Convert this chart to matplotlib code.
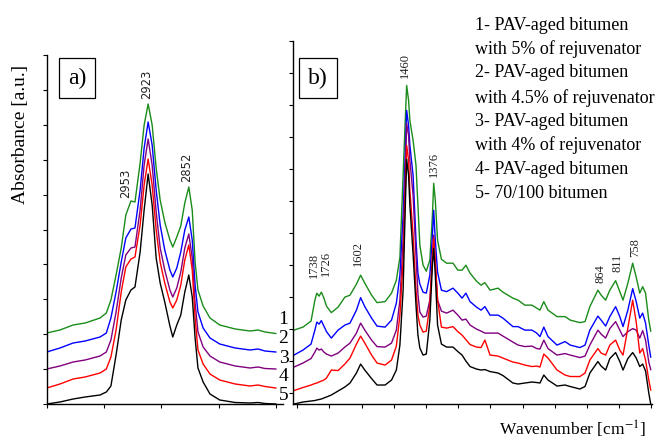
import matplotlib
matplotlib.use("Agg")
import matplotlib.pyplot as plt
import numpy as np

plt.rcParams['mathtext.fontset'] = 'stix'

# ---------------- Data: panel a) C-H stretching region ----------------
wn_a = [3100, 3077, 3054, 3033, 3007, 2996, 2988, 2979, 2970, 2962, 2953, 2946,
        2937, 2930, 2923, 2916, 2909, 2902, 2894, 2885, 2880, 2873, 2866, 2859,
        2852, 2846, 2841, 2836, 2827, 2815, 2798, 2771, 2745, 2731, 2719, 2700]

a1 = [71, 74, 79, 81, 86, 91, 104, 129, 156, 189, 203, 202, 241, 279, 300, 279, 236,
      204, 182, 164, 157, 167, 178, 201, 217, 194, 142, 114, 98, 86, 79, 75, 73, 74, 72, 70.5]
a2 = [52, 56, 61, 63, 67, 71, 86, 112, 142, 166, 175, 176, 214, 256, 282, 259, 214,
      179, 154, 134, 127, 136, 152, 174, 187, 164, 119, 92, 76, 66, 60, 56, 54, 55, 53, 52]
a3 = [35, 38, 42, 44, 48, 52, 64, 92, 126, 149, 156, 157, 194, 239, 265, 239, 192,
      156, 134, 114, 107, 116, 132, 156, 170, 146, 101, 72, 57, 48, 42, 38, 36, 37, 35.5, 35]
a4 = [16, 20, 25, 27, 31, 35, 47, 74, 112, 137, 145, 147, 179, 219, 245, 219, 174,
      142, 121, 102, 96, 104, 119, 144, 159, 134, 86, 54, 40, 30, 24, 20, 18, 19, 17.5, 16]
a5 = [0, 2, 5, 7, 9, 12, 18, 49, 84, 104, 114, 117, 152, 194, 230, 199, 146,
      121, 102, 78, 67, 79, 89, 112, 129, 107, 66, 36, 22, 10, 4, 1.5, 1, 1.5, 0.5, 0]

# ---------------- Data: panel b) fingerprint region ----------------
wn_b = [1810, 1782, 1757, 1745, 1739, 1732, 1725, 1717, 1709, 1694,
        1673, 1652, 1636, 1616, 1603, 1590, 1569, 1552, 1527, 1507,
        1492, 1481, 1471, 1465, 1460, 1454, 1450, 1440, 1431, 1425,
        1419, 1409, 1399, 1388, 1380, 1376, 1371, 1364, 1352, 1336,
        1316, 1301, 1288, 1276, 1263, 1243, 1229, 1217, 1201, 1176,
        1161, 1130, 1114, 1093, 1071, 1056, 1046, 1034, 1021, 993,
        968, 952, 922, 906, 891, 866, 856, 842, 829, 811,
        798, 788, 773, 758, 747, 736, 727, 718, 708, 702]

b1 = [74, 77, 83, 104, 111, 108, 112, 106, 98, 91.5,
      97, 107, 109, 120, 129, 121, 109, 101.5, 102.5, 111,
      124, 147, 229, 279, 319, 304, 284, 264, 239, 199,
      159, 139, 133, 144, 189, 221, 204, 164, 145, 141,
      141, 134, 134, 139, 131, 123, 119, 121.5, 114, 116,
      112, 106, 104, 99, 99, 96, 94, 102.5, 94, 87.5,
      87.5, 84, 81.5, 82.5, 97.5, 114, 109, 104, 114, 123.5,
      112.5, 104, 121, 141, 127, 111, 117.5, 111, 84, 73]
b2 = [49, 54, 60, 74, 82, 80, 83.5, 78, 72.5, 66,
      74, 79, 81, 94, 106.5, 97.5, 86, 78, 77, 84,
      101, 129, 189, 244, 294, 279, 259, 229, 164, 131,
      120, 112, 111, 129, 169, 194, 164, 132, 114, 112.5,
      116, 111, 106, 111, 102.5, 97, 94, 97.5, 89, 89,
      86, 77.5, 77.5, 74, 74, 71, 67.5, 77, 67.5, 59,
      62.5, 59, 56.5, 59, 74, 88, 84, 78, 87.5, 97.5,
      87.5, 77.5, 94, 115.5, 102.5, 86, 91, 81, 59, 47]
b3 = [37, 41, 45.5, 52, 56, 54, 55, 52, 50, 48,
      51, 57, 61, 71, 81, 74, 64, 57.5, 57, 61,
      74, 104, 164, 224, 281, 269, 244, 209, 149, 110,
      92, 87, 88, 104, 144, 169, 139, 104, 93, 91,
      94, 89, 84, 85, 79, 75, 73, 71, 71, 71,
      68, 62, 59, 57.5, 58, 55.5, 55, 64, 55.5, 49,
      50.5, 49, 46.5, 48, 59, 74, 70, 66, 75.5, 82.5,
      74, 67.5, 72.5, 75.5, 74, 66, 73.5, 64, 42, 34.5]
b4 = [13.5, 16.5, 19, 20.5, 21, 22, 23, 24, 26, 34,
      33.5, 40, 46, 60, 68, 61, 49, 41, 39, 44,
      58, 89, 144, 204, 259, 244, 214, 169, 114, 89,
      79, 72, 73, 99, 149, 166, 144, 104, 77, 76,
      77.5, 72.5, 69, 64.5, 59.5, 57, 56.5, 64, 49, 48,
      46, 42, 41, 39, 37.5, 38, 37, 50, 46, 34,
      29, 27.5, 27.5, 31, 44, 55.5, 51, 49, 59, 64,
      54, 49, 76, 104, 82, 51, 55.5, 44, 24, 14]
b5 = [0, 2, 3, 3.5, 4, 4.5, 5, 6, 7, 9,
      13, 17, 21, 31, 40, 34, 25.5, 19, 19, 24,
      34, 59, 114, 189, 245, 229, 199, 150, 99, 69,
      56, 49, 50, 84, 139, 156, 129, 79, 60, 57,
      57, 52.5, 49, 43, 37.5, 35, 34, 34.5, 32.5, 31,
      28.5, 21, 20, 21, 22, 21.5, 21, 29, 24, 18,
      19, 17.5, 15, 17.5, 31, 42.5, 38, 34, 45.5, 51.5,
      42.5, 34, 45.5, 51.5, 46, 37.5, 40, 33, 11, 0]

colors = ['#1a8c1a', '#0000ff', '#800080', '#ff0000', '#000000']

peaks_a = [(2962, 221, '2953'), (2925, 320, '2923'), (2856, 237, '2852')]
peaks_b = [(1747, 139, '1738'), (1711, 141, '1726'), (1610, 151, '1602'),
           (1465, 339, '1460'), (1375, 240, '1376'), (859, 131, '864'),
           (805, 141, '811'), (750, 157, '758')]

legend_lines = ["1- PAV-aged bitumen", "with 5% of rejuvenator",
                "2- PAV-aged bitumen", "with 4.5% of rejuvenator",
                "3- PAV-aged bitumen", "with 4% of rejuvenator",
                "4- PAV-aged bitumen", "5- 70/100 bitumen"]
curve_ids = ['1', '2', '3', '4', '5']

# ---------------- Figure ----------------
W, H = 659, 441
fig = plt.figure(figsize=(W / 100, H / 100), dpi=100)

def fx(px):
    return px / W

def fy(py):
    return (H - py) / H

axa = fig.add_axes([fx(46.5), fy(404), fx(283) - fx(46.5), fy(55) - fy(404)])
axb = fig.add_axes([fx(293), fy(404), fx(652) - fx(293), fy(41) - fy(404)])

for ys, c in zip([a1, a2, a3, a4, a5], colors):
    axa.plot(wn_a, ys, color=c, lw=1.0)
for ys, c in zip([b1, b2, b3, b4, b5], colors):
    axb.plot(wn_b, ys, color=c, lw=1.0)

axa.set_xlim(3100.5, 2687.5)
axa.set_ylim(0, 349)
axa.set_xticks([3100, 3000, 2900, 2800, 2700])
axa.set_yticks(np.linspace(0, 349, 11))

axb.set_xlim(1813, 698)
axb.set_ylim(0, 363.5)
axb.set_xticks(np.arange(1800, 699, -100))
axb.set_yticks(11.5 + 32 * np.arange(12))

for ax in (axa, axb):
    for s in ('top', 'right'):
        ax.spines[s].set_visible(False)
    for s in ('left', 'bottom'):
        ax.spines[s].set_linewidth(1.0)
    ax.tick_params(direction='out', length=3, width=0.8,
                   labelbottom=False, labelleft=False)
    ax.patch.set_alpha(0)

for x, y, t in peaks_a:
    axa.text(x, y, t, rotation=90, ha='center', va='center', fontsize=8.3,
             family='DejaVu Sans', color='#222222')
for x, y, t in peaks_b:
    axb.text(x, y, t, rotation=90, ha='center', va='center', fontsize=9,
             family='Liberation Serif', color='#222222')

box = dict(boxstyle='square,pad=0.38', fc='white', ec='black', lw=0.9)
fig.text(fx(77), fy(78), 'a)', ha='center', va='center', fontsize=17,
         family='Liberation Serif', bbox=box)
fig.text(fx(318), fy(78), 'b)', ha='center', va='center', fontsize=17,
         family='Liberation Serif', bbox=box)

leg_y = [25, 49.3, 72.7, 97.7, 121.7, 145, 169.3, 193.3]
for t, y in zip(legend_lines, leg_y):
    fig.text(fx(475), fy(y), t, ha='left', va='center', fontsize=13,
             family='Liberation Serif')

num_y = [319.3, 338.3, 358.3, 376.7, 395]
for t, y in zip(curve_ids, num_y):
    fig.text(fx(283.5), fy(y), t, ha='center', va='center', fontsize=14,
             family='Liberation Serif')

fig.text(fx(20.5), fy(134), 'Absorbance [a.u.]', rotation=90, ha='center',
         va='center', fontsize=14, family='Liberation Serif')
fig.text(fx(572.5), fy(429), 'Wavenumber [cm$^{-1}$]', ha='center',
         va='center', fontsize=12.5, family='Liberation Serif')

fig.savefig('out.png', dpi=100)
